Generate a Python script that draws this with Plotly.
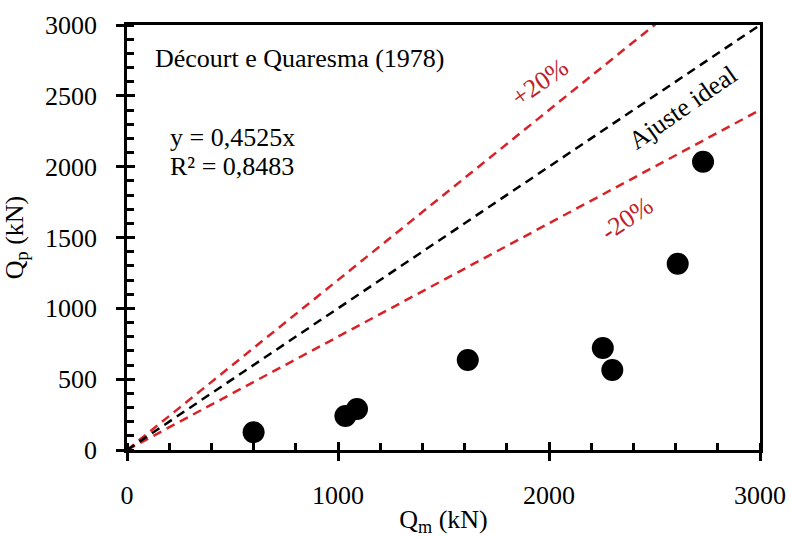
import plotly.graph_objects as go

# Data
qm = [600, 1035, 1090, 1615, 2255, 2300, 2610, 2730]
qp = [125, 240, 290, 635, 720, 565, 1315, 2035]
ref_x = [0, 3000]
ideal_y = [0, 3000]
plus20_y = [0, 3600]
minus20_y = [0, 2400]
tick_vals = [0, 500, 1000, 1500, 2000, 2500, 3000]
x_tick_vals = [0, 1000, 2000, 3000]

FONT = "Liberation Serif, Times New Roman, serif"
RED_LINE = "#D92128"
RED_TEXT = "#C0202A"

fig = go.Figure()
fig.add_trace(go.Scatter(x=ref_x, y=plus20_y, mode="lines",
                         line=dict(color=RED_LINE, width=2.5, dash="9px,6px"), showlegend=False))
fig.add_trace(go.Scatter(x=ref_x, y=minus20_y, mode="lines",
                         line=dict(color=RED_LINE, width=2.5, dash="9px,6px"), showlegend=False))
fig.add_trace(go.Scatter(x=ref_x, y=ideal_y, mode="lines",
                         line=dict(color="black", width=2.5, dash="9px,6px"), showlegend=False))
fig.add_trace(go.Scatter(x=qm, y=qp, mode="markers",
                         marker=dict(color="black", size=22), showlegend=False))
# overlay axes for inner part of major ticks
fig.add_trace(go.Scatter(x=[None], y=[None], xaxis="x2", yaxis="y2", showlegend=False))

axis_common = dict(showgrid=False, zeroline=False, showline=True, linecolor="black",
                   linewidth=2.5, tickcolor="black", tickwidth=2.5, ticks="outside",
                   ticklen=8, tickfont=dict(family=FONT, size=26, color="black"),
                   mirror=True, automargin=False)

fig.update_layout(
    width=791, height=537,
    margin=dict(l=127, r=31, t=25, b=87),
    plot_bgcolor="white", paper_bgcolor="white",
    font=dict(family=FONT, color="black", size=26),
    xaxis=dict(range=[0, 3000], tickvals=x_tick_vals, ticklabelstandoff=12,
               minor=dict(ticks="inside", dtick=200, ticklen=7, tickwidth=2.5, tickcolor="black"),
               title=dict(text="Q<sub>m</sub> (kN)", font=dict(family=FONT, size=26), standoff=20),
               **axis_common),
    yaxis=dict(range=[0, 3000], tickvals=tick_vals, ticklabelstandoff=14,
               minor=dict(ticks="inside", dtick=100, ticklen=7, tickwidth=2.5, tickcolor="black"),
               title=dict(text="Q<sub>p</sub> (kN)", font=dict(family=FONT, size=26)),
               **axis_common),
    xaxis2=dict(range=[0, 3000], overlaying="x", tickvals=x_tick_vals, ticks="inside",
                ticklen=8, tickwidth=2.5, tickcolor="black", showticklabels=False,
                showgrid=False, zeroline=False, showline=False),
    yaxis2=dict(range=[0, 3000], overlaying="y", tickvals=tick_vals, ticks="inside",
                ticklen=8, tickwidth=2.5, tickcolor="black", showticklabels=False,
                showgrid=False, zeroline=False, showline=False),
)

ann_font = dict(family=FONT, size=26, color="black")
fig.add_annotation(x=0.041, y=0.922, xref="paper", yref="paper", xanchor="left", yanchor="middle",
                   text="Décourt e Quaresma (1978)", showarrow=False, font=ann_font)
fig.add_annotation(x=0.065, y=0.736, xref="paper", yref="paper", xanchor="left", yanchor="middle",
                   text="y = 0,4525x", showarrow=False, font=ann_font)
fig.add_annotation(x=0.065, y=0.666, xref="paper", yref="paper", xanchor="left", yanchor="middle",
                   text="R² = 0,8483", showarrow=False, font=ann_font)
fig.add_annotation(x=0.878, y=0.807, xref="paper", yref="paper", xanchor="center", yanchor="middle",
                   text="Ajuste ideal", showarrow=False, textangle=-35, font=ann_font)
fig.add_annotation(x=0.652, y=0.864, xref="paper", yref="paper", xanchor="center", yanchor="middle",
                   text="+20%", showarrow=False, textangle=-35,
                   font=dict(family=FONT, size=26, color=RED_TEXT))
fig.add_annotation(x=0.790, y=0.544, xref="paper", yref="paper", xanchor="center", yanchor="middle",
                   text="-20%", showarrow=False, textangle=-34,
                   font=dict(family=FONT, size=26, color=RED_TEXT))

fig.write_html("out.html")
